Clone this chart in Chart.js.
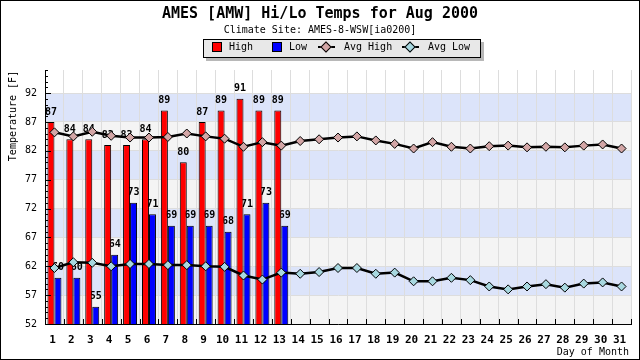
<!DOCTYPE html>
<html>
<head>
<meta charset="utf-8">
<script src="https://cdn.jsdelivr.net/npm/chart.js@4.4.1/dist/chart.umd.min.js"></script>
<style>
  html, body { margin: 0; padding: 0; background: #fff; }
  #wrap { position: relative; width: 640px; height: 360px; font-family: "DejaVu Sans Mono", monospace; color: #000; }
  #frame { position: absolute; left: 0; top: 0; width: 638px; height: 358px; border: 1px solid #000; pointer-events: none; }
  .txt { position: absolute; white-space: nowrap; }
  #title { left: 0; width: 640px; top: 5px; text-align: center; font-size: 15px; font-weight: bold; line-height: 16px; }
  #sub { left: 0; width: 640px; top: 24px; text-align: center; font-size: 10px; line-height: 12px; }
  #legend { position: absolute; left: 203px; top: 39px; width: 276px; height: 17px; background: #e8e8e8; border: 1px solid #000; box-shadow: 3px 3px 0 #b8b8b8; }
  .sq { position: absolute; top: 42px; width: 8px; height: 8px; border: 1px solid #000; }
  .lg { font-size: 10px; line-height: 12px; top: 41px; }
  .ln { position: absolute; top: 46px; height: 2px; width: 17px; background: #000; }
  .dm { position: absolute; width: 6px; height: 6px; border: 1px solid #000; transform: rotate(45deg); top: 43px; }
  #ytitle { left: -37px; top: 110px; width: 100px; text-align: center; font-size: 10px; line-height: 12px; transform: rotate(-90deg); }
  #xtitle { right: 11px; top: 346px; font-size: 10px; line-height: 12px; }
</style>
</head>
<body>
<div id="wrap">
  <canvas id="c" width="640" height="360"></canvas>
  <div class="txt" id="title">AMES [AMW] Hi/Lo Temps for Aug 2000</div>
  <div class="txt" id="sub">Climate Site: AMES-8-WSW[ia0200]</div>
  <div id="legend"></div>
  <div class="sq" style="left:212px;background:#ff0000"></div>
  <div class="txt lg" style="left:229px">High</div>
  <div class="sq" style="left:272px;background:#0000ff"></div>
  <div class="txt lg" style="left:289px">Low</div>
  <div class="ln" style="left:318px"></div>
  <div class="dm" style="left:322px;background:#d3a6a6"></div>
  <div class="txt lg" style="left:344px">Avg High</div>
  <div class="ln" style="left:402px"></div>
  <div class="dm" style="left:406px;background:#a8d8e0"></div>
  <div class="txt lg" style="left:428px">Avg Low</div>
  <div class="txt" id="ytitle">Temperature [F]</div>
  <div class="txt" id="xtitle">Day of Month</div>
  <div id="frame"></div>
</div>
<script>
const days = ["1","2","3","4","5","6","7","8","9","10","11","12","13","14","15","16",
  "17","18","19","20","21","22","23","24","25","26","27","28","29","30","31"];
const highs = [87, 84, 84, 83, 83, 84, 89, 80, 87, 89, 91, 89, 89];
const lows = [60, 60, 55, 64, 73, 71, 69, 69, 69, 68, 71, 73, 69];
const avgHigh = [85.2, 84.5, 85.3, 84.6, 84.3, 84.3, 84.4, 85.0, 84.5, 84.1, 82.7, 83.5, 82.9, 83.7, 84.0, 84.3,
  84.5, 83.8, 83.2, 82.4, 83.5, 82.7, 82.4, 82.8, 82.9, 82.6, 82.7, 82.6, 82.9, 83.1, 82.4];
const avgLow = [61.7, 62.7, 62.6, 62.0, 62.4, 62.4, 62.2, 62.2, 62.0, 61.9, 60.4, 59.7, 60.9, 60.7, 61.0, 61.7,
  61.7, 60.7, 60.9, 59.4, 59.4, 60.0, 59.6, 58.5, 58.0, 58.5, 58.9, 58.3, 59.0, 59.2, 58.5];
const yTicks = [52, 57, 62, 67, 72, 77, 82, 87, 92];
const yMin = 52, yMax = 96;

// striped background between the major y ticks
const bands = {
  id: "bands",
  beforeDraw(chart) {
    const { ctx, chartArea: a, scales: { y } } = chart;
    ctx.save();
    for (let i = 0; i < yTicks.length - 1; i++) {
      const top = y.getPixelForValue(yTicks[i + 1]);
      const bot = y.getPixelForValue(yTicks[i]);
      ctx.fillStyle = i % 2 === 0 ? "#f4f4f4" : "#dce4fa";
      ctx.fillRect(a.left, top, a.right - a.left, bot - top);
    }
    ctx.restore();
  }
};

// value labels over the bars
const barLabels = {
  id: "barLabels",
  afterDatasetDraw(chart, args) {
    if (args.meta.type !== "bar") return;
    const ds = chart.data.datasets[args.index];
    const ctx = chart.ctx;
    ctx.save();
    ctx.font = "bold 10px 'DejaVu Sans Mono'";
    ctx.fillStyle = "#000";
    ctx.textAlign = "center";
    ctx.textBaseline = "middle";
    args.meta.data.forEach((el, i) => {
      const v = ds.data[i];
      if (v == null) return;
      ctx.fillText(String(v), el.x, el.y - 10);
    });
    ctx.restore();
  }
};

// inside tick marks
const innerTicks = {
  id: "innerTicks",
  afterDraw(chart) {
    const { ctx, chartArea: a, scales: { x, y } } = chart;
    ctx.save();
    ctx.strokeStyle = "#000";
    ctx.lineWidth = 1;
    ctx.beginPath();
    for (let v = yMin; v <= yMax; v++) {
      const py = Math.round(y.getPixelForValue(v)) + 0.5;
      const len = yTicks.includes(v) ? 6 : 3;
      ctx.moveTo(a.left, py);
      ctx.lineTo(a.left + len, py);
    }
    const step = x.getPixelForValue(1) - x.getPixelForValue(0);
    for (let i = 0; i < days.length; i++) {
      const px = Math.round(x.getPixelForValue(i) + step / 2) + 0.5;
      ctx.moveTo(px, a.bottom);
      ctx.lineTo(px, a.bottom - 5);
    }
    ctx.stroke();
    ctx.restore();
  }
};

const lineStyle = {
  type: "line",
  order: 0,
  borderColor: "#000",
  borderWidth: 2.5,
  tension: 0,
  pointStyle: "rectRot",
  pointRadius: 4.5,
  pointBorderColor: "#000",
  pointBorderWidth: 1
};

new Chart(document.getElementById("c"), {
  type: "bar",
  data: {
    labels: days,
    datasets: [
      { ...lineStyle, label: "Avg High", data: avgHigh, pointBackgroundColor: "#d3a6a6" },
      { ...lineStyle, label: "Avg Low", data: avgLow, pointBackgroundColor: "#a8d8e0" },
      { label: "High", data: highs, order: 1, backgroundColor: "#ff0000", borderColor: "#000", borderWidth: 1,
        borderSkipped: false, categoryPercentage: 0.74, barPercentage: 1 },
      { label: "Low", data: lows, order: 1, backgroundColor: "#0000ff", borderColor: "#000", borderWidth: 1,
        borderSkipped: false, categoryPercentage: 0.74, barPercentage: 1 }
    ]
  },
  options: {
    responsive: false,
    animation: false,
    layout: { padding: { top: 70, right: 9, left: 0, bottom: 0 } },
    plugins: { legend: { display: false }, tooltip: { enabled: false } },
    scales: {
      x: {
        grid: { color: "#dddddd", offset: true, drawTicks: false },
        border: { color: "#000" },
        ticks: { font: { family: "DejaVu Sans Mono", weight: "bold", size: 11 }, color: "#000",
          padding: 10, maxRotation: 0, autoSkip: false, labelOffset: -2 },
        afterFit(s) { s.height = 36; }
      },
      y: {
        min: yMin, max: yMax,
        afterBuildTicks(s) { s.ticks = yTicks.map(v => ({ value: v })); },
        grid: { color: "#dddddd", drawTicks: false },
        border: { color: "#000" },
        ticks: { font: { family: "DejaVu Sans Mono", size: 10 }, color: "#000", padding: 8 },
        afterFit(s) { s.width = 45; }
      }
    }
  },
  plugins: [bands, barLabels, innerTicks]
});
</script>
</body>
</html>
